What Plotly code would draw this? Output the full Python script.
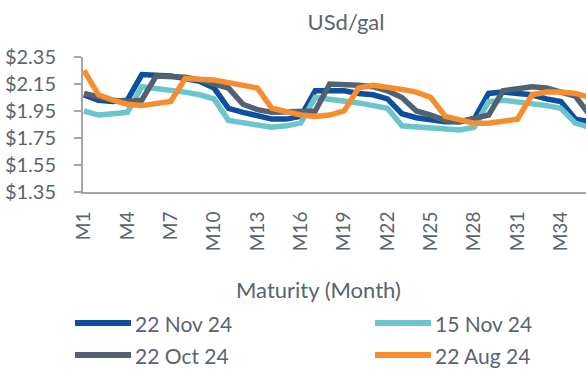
import plotly.graph_objects as go

# Forward curve maturities (months)
months = [f"M{i}" for i in range(1, 37)]

# Price curves, USd/gal
nov22 = [2.07, 2.03, 2.02, 2.03, 2.22, 2.22, 2.21, 2.19, 2.17, 2.12,
         1.97, 1.94, 1.92, 1.89, 1.89, 1.91, 2.10, 2.10, 2.10, 2.08,
         2.07, 2.04, 1.93, 1.90, 1.88, 1.87, 1.87, 1.89, 2.08, 2.09,
         2.08, 2.07, 2.04, 2.02, 1.89, 1.87]
nov15 = [1.95, 1.92, 1.93, 1.94, 2.13, 2.12, 2.11, 2.09, 2.07, 2.04,
         1.88, 1.86, 1.85, 1.83, 1.84, 1.86, 2.05, 2.04, 2.02, 2.01,
         1.99, 1.97, 1.84, 1.83, 1.82, 1.81, 1.81, 1.83, 2.02, 2.03,
         2.02, 2.00, 1.99, 1.97, 1.86, 1.83]
oct22 = [2.08, 2.05, 2.03, 2.02, 2.03, 2.21, 2.21, 2.20, 2.18, 2.15,
         2.12, 2.00, 1.96, 1.94, 1.94, 1.94, 1.95, 2.15, 2.15, 2.14,
         2.13, 2.10, 2.05, 1.95, 1.92, 1.88, 1.87, 1.89, 1.92, 2.10,
         2.12, 2.13, 2.12, 2.09, 2.06, 1.92]
aug22 = [2.25, 2.07, 2.03, 2.00, 1.99, 2.00, 2.02, 2.19, 2.19, 2.18,
         2.16, 2.14, 2.12, 1.97, 1.94, 1.92, 1.91, 1.92, 1.95, 2.12,
         2.14, 2.13, 2.11, 2.09, 2.05, 1.91, 1.88, 1.86, 1.86, 1.87,
         1.89, 2.07, 2.09, 2.09, 2.08, 2.05]

series_names = ["22 Nov 24", "15 Nov 24", "22 Oct 24", "22 Aug 24"]
series_values = [nov22, nov15, oct22, aug22]
series_colors = ["#0b4f9e", "#6cc5cd", "#546170", "#f68d2e"]

y_ticks = [1.35, 1.55, 1.75, 1.95, 2.15, 2.35]
x_ticks = months[::3]

TEXT = "#596470"
FONT = "Lato"

W, H = 586, 372
L, T, B = 83, 57, 180
PW, PH = W - L, H - T - B


def px_x(px):
    return (px - L) / PW


def px_y(py):
    return (H - B - py) / PH


fig = go.Figure()
for name, vals, col in zip(series_names, series_values, series_colors):
    fig.add_trace(go.Scatter(
        x=months, y=vals, name=name, mode="lines",
        line=dict(color=col, width=5.5, shape="linear"),
        showlegend=False,
    ))

# Two-column legend below the axis title
legend_slots = [(75, 323), (375, 323), (75, 355), (375, 355)]
for (lx, ly), name, col in zip(legend_slots, series_names, series_colors):
    fig.add_shape(type="line", xref="paper", yref="paper",
                  x0=px_x(lx), x1=px_x(lx + 56), y0=px_y(ly), y1=px_y(ly),
                  line=dict(color=col, width=6))
    fig.add_annotation(xref="paper", yref="paper", x=px_x(lx + 58), y=px_y(ly),
                       text=name, showarrow=False, xanchor="left", yanchor="middle",
                       font=dict(family=FONT, size=21, color=TEXT))

fig.add_annotation(xref="paper", yref="paper", x=px_x(318), y=px_y(289),
                   text="Maturity (Month)", showarrow=False,
                   xanchor="center", yanchor="middle",
                   font=dict(family=FONT, size=22, color=TEXT))

fig.update_layout(
    width=W, height=H,
    margin=dict(l=L, r=0, t=T, b=B, pad=0),
    paper_bgcolor="white", plot_bgcolor="white",
    title=dict(text="USd/gal", x=346 / W, y=1 - 22 / H,
               xanchor="center", yanchor="middle",
               font=dict(family=FONT, size=22, color=TEXT)),
    xaxis=dict(
        type="category", categoryorder="array", categoryarray=months,
        range=[-0.07, 34.74],
        tickmode="array", tickvals=x_ticks, ticktext=x_ticks,
        tickangle=-90, ticks="", ticklabelstandoff=10,
        tickfont=dict(family=FONT, size=19, color=TEXT),
        showline=True, linecolor="#a6a6a6", linewidth=2,
        showgrid=False, zeroline=False,
    ),
    yaxis=dict(
        range=[1.35, 2.35],
        tickmode="array", tickvals=y_ticks,
        ticktext=[f"${v:.2f}" for v in y_ticks],
        ticks="outside", ticklen=7, tickwidth=2, tickcolor="#a6a6a6",
        ticklabelstandoff=14,
        tickfont=dict(family=FONT, size=20, color=TEXT),
        showline=True, linecolor="#a6a6a6", linewidth=2,
        showgrid=False, zeroline=False,
    ),
    showlegend=False,
)

fig.write_html("out.html")
